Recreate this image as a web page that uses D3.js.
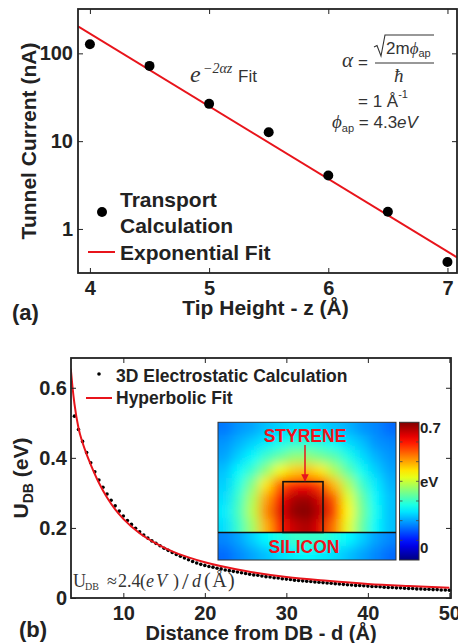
<!DOCTYPE html>
<html>
<head>
<meta charset="utf-8">
<script src="https://cdn.jsdelivr.net/npm/d3@7"></script>
<style>
  body { margin: 0; background: #fff; }
  svg { display: block; font-family: "Liberation Sans", Arial, Helvetica, sans-serif; }
</style>
</head>
<body>
<div id="chart"></div>
<script>
// ---- panel (a): tunnel current vs tip height ----
const tipHeight = [4, 4.5, 5, 5.5, 6, 6.5, 7];
const tunnelCurrent = [127, 72, 26.6, 12.6, 4.06, 1.57, 0.42];
const expFitZ = [3.9, 7.08];
const expFitI = [203, 0.475];
const aTicksX = [4, 5, 6, 7];
const aTicksY = [1, 10, 100];

// ---- panel (b): electrostatic potential vs distance ----
const distance = [4,4.5,5,5.5,6,6.5,7,7.5,8,8.5,9,9.5,10,10.5,11,11.5,12,12.5,13,13.5,14,14.5,15,15.5,
  16,16.5,17,17.5,18,18.5,19,19.5,20,20.5,21,21.5,22,22.5,23,23.5,24,24.5,25,25.5,26,26.5,27,27.5,
  28,28.5,29,29.5,30,30.5,31,31.5,32,32.5,33,33.5,34,34.5,35,35.5,36,36.5,37,37.5,38,38.5,39,39.5,
  40,40.5,41,41.5,42,42.5,43,43.5,44,44.5,45,45.5,46,46.5,47,47.5,48,48.5,49,49.5,50];
const potential = [0.519,0.481,0.447,0.415,0.386,0.360,0.337,0.316,0.297,0.279,0.263,0.248,0.234,0.221,
  0.210,0.199,0.189,0.180,0.171,0.163,0.156,0.149,0.142,0.136,0.130,0.124,0.119,0.114,0.109,0.104,0.100,0.096,
  0.093,0.090,0.088,0.085,0.083,0.080,0.078,0.076,0.074,0.072,0.070,
  0.068,0.066,0.065,0.063,0.061,0.060,0.058,0.057,0.055,0.054,
  0.053,0.051,0.050,0.049,0.048,0.047,0.046,0.045,0.044,0.043,
  0.042,0.041,0.040,0.039,0.038,0.037,0.036,0.036,0.035,0.034,
  0.033,0.033,0.032,0.031,0.030,0.030,0.029,0.029,0.028,0.027,
  0.027,0.026,0.026,0.025,0.025,0.024,0.024,0.023,0.023,0.022];
const hypFitD = [3.55,3.75,4,4.5,5,5.5,6,7,8,9,10,12,14,16,18,20,25,30,35,40,45,50];
const hypFitU = [0.655,0.605,0.555,0.485,0.443,0.410,0.381,0.329,0.287,0.253,0.226,0.185,0.156,
  0.133,0.116,0.102,0.077,0.060,0.049,0.040,0.034,0.029];
const bTicksX = [10, 20, 30, 40, 50];
const bTicksY = [0, 0.2, 0.4, 0.6];

// inset potential map (eV), rows top -> bottom; rows 8-9 are the silicon
const potentialMap = [
  [0.17,0.19,0.20,0.22,0.23,0.24,0.24,0.23,0.22,0.21,0.19,0.18,0.16],
  [0.19,0.21,0.23,0.25,0.27,0.29,0.29,0.28,0.26,0.24,0.22,0.19,0.18],
  [0.20,0.23,0.26,0.30,0.33,0.36,0.36,0.34,0.32,0.28,0.24,0.21,0.19],
  [0.22,0.26,0.30,0.36,0.43,0.47,0.48,0.45,0.38,0.32,0.27,0.23,0.20],
  [0.23,0.28,0.35,0.45,0.55,0.60,0.61,0.57,0.48,0.38,0.30,0.25,0.21],
  [0.24,0.30,0.38,0.50,0.61,0.67,0.68,0.64,0.55,0.42,0.33,0.26,0.22],
  [0.25,0.31,0.39,0.52,0.63,0.69,0.70,0.66,0.57,0.44,0.34,0.27,0.22],
  [0.24,0.30,0.37,0.49,0.60,0.65,0.67,0.63,0.53,0.42,0.33,0.26,0.22],
  [0.18,0.20,0.23,0.26,0.28,0.30,0.30,0.30,0.28,0.26,0.23,0.20,0.18],
  [0.16,0.18,0.20,0.22,0.24,0.25,0.26,0.25,0.24,0.22,0.20,0.18,0.16]
];
const colorbarMax = 0.7;

const W = 458, H = 643;
const ink = '#222';
const svg = d3.select('#chart').append('svg').attr('width', W).attr('height', H);
const defs = svg.append('defs');

function frame(box, xs, ys, xt, yt, fmtX, fmtY, padX, padY) {
  const g = svg.append('g');
  g.append('g').attr('transform', `translate(0,${box.b})`)
    .call(d3.axisBottom(xs).tickValues(xt).tickSizeInner(-5).tickSizeOuter(0).tickPadding(padX).tickFormat(fmtX));
  g.append('g').attr('transform', `translate(0,${box.t})`)
    .call(d3.axisTop(xs).tickValues(xt).tickSizeInner(-5).tickSizeOuter(0).tickFormat(''));
  g.append('g').attr('transform', `translate(${box.l},0)`)
    .call(d3.axisLeft(ys).tickValues(yt).tickSizeInner(-5).tickSizeOuter(0).tickPadding(padY).tickFormat(fmtY));
  g.append('g').attr('transform', `translate(${box.r},0)`)
    .call(d3.axisRight(ys).tickValues(yt).tickSizeInner(-5).tickSizeOuter(0).tickFormat(''));
  g.selectAll('.domain').remove();
  g.selectAll('.tick line').attr('stroke', ink).attr('stroke-width', 1);
  g.selectAll('.tick text').attr('font-size', 20).attr('font-weight', 'bold').attr('fill', ink)
    .attr('font-family', '"Liberation Sans", Arial, sans-serif');
  svg.append('rect').attr('x', box.l).attr('y', box.t).attr('width', box.r - box.l).attr('height', box.b - box.t)
    .attr('fill', 'none').attr('stroke', ink).attr('stroke-width', 1.8);
}

// ================= panel (a) =================
const A = {l: 78, r: 457, t: 9, b: 273};
const xa = d3.scaleLinear().domain([3.9, 7.08]).range([A.l, A.r]);
const ya = d3.scaleLog().domain([0.315, 320]).range([A.b, A.t]);

defs.append('clipPath').attr('id', 'clipA').append('rect')
  .attr('x', A.l).attr('y', A.t).attr('width', A.r - A.l).attr('height', A.b - A.t);

svg.append('path')
  .datum(expFitZ.map((z, i) => [z, expFitI[i]]))
  .attr('clip-path', 'url(#clipA)')
  .attr('d', d3.line().x(d => xa(d[0])).y(d => ya(d[1])))
  .attr('fill', 'none').attr('stroke', '#e8141b').attr('stroke-width', 2);

svg.append('g').selectAll('circle')
  .data(tipHeight.map((z, i) => [z, tunnelCurrent[i]]))
  .join('circle')
  .attr('cx', d => xa(d[0])).attr('cy', d => ya(d[1])).attr('r', 5).attr('fill', '#000');

frame(A, xa, ya, aTicksX, aTicksY, d3.format('d'), d3.format('d'), 8, 5);

// legend (a)
svg.append('circle').attr('cx', 102).attr('cy', 212).attr('r', 5).attr('fill', '#000');
const legA = svg.append('g').attr('font-size', 21).attr('font-weight', 'bold').attr('fill', ink);
legA.append('text').attr('x', 120).attr('y', 207).text('Transport');
legA.append('text').attr('x', 120).attr('y', 233).text('Calculation');
legA.append('text').attr('x', 120).attr('y', 260).text('Exponential Fit');
svg.append('line').attr('x1', 88).attr('x2', 115).attr('y1', 252).attr('y2', 252)
  .attr('stroke', '#e8141b').attr('stroke-width', 2);

// annotation e^{-2αz} Fit
const serif = '"Liberation Serif", "Times New Roman", serif';
svg.append('text').attr('x', 190).attr('y', 82).attr('font-family', serif).attr('font-style', 'italic')
  .attr('font-size', 24).attr('fill', '#333').text('e');
svg.append('text').attr('x', 203).attr('y', 73).attr('font-family', serif).attr('font-style', 'italic')
  .attr('font-size', 14).attr('fill', '#333').text('−2αz');
svg.append('text').attr('x', 238).attr('y', 82).attr('font-size', 17).attr('fill', '#333').text('Fit');

// formula α = sqrt(2mφap)/ħ
const fm = svg.append('g').attr('fill', '#333').attr('font-size', 17);
fm.append('text').attr('x', 342).attr('y', 67).attr('font-family', serif).attr('font-style', 'italic')
  .attr('font-size', 21).text('α');
fm.append('text').attr('x', 358).attr('y', 68).text('=');
fm.append('path').attr('d', 'M374,47 L377,45.5 L381,56 L385,35 L434,35')
  .attr('fill', 'none').attr('stroke', '#333').attr('stroke-width', 1.1);
const num = fm.append('text').attr('x', 386).attr('y', 54);
num.append('tspan').text('2m');
num.append('tspan').attr('font-family', serif).attr('font-style', 'italic').text('ϕ');
num.append('tspan').attr('font-size', 11).attr('dy', 3).text('ap');
fm.append('line').attr('x1', 375).attr('x2', 434).attr('y1', 63).attr('y2', 63)
  .attr('stroke', '#333').attr('stroke-width', 1.1);
fm.append('text').attr('x', 394).attr('y', 82).attr('font-family', serif).attr('font-style', 'italic')
  .attr('font-size', 19).text('ħ');
const l2 = fm.append('text').attr('x', 358).attr('y', 107);
l2.append('tspan').text('= 1 Å');
l2.append('tspan').attr('font-size', 11).attr('dy', -9).text('-1');
const l3 = fm.append('text').attr('x', 332).attr('y', 128);
l3.append('tspan').attr('font-family', serif).attr('font-style', 'italic').attr('font-size', 19).text('ϕ');
l3.append('tspan').attr('font-size', 11).attr('dy', 4).text('ap');
l3.append('tspan').attr('dy', -4).text(' = 4.3');
l3.append('tspan').attr('font-style', 'italic').text('eV');

// axis titles (a)
svg.append('text').attr('transform', `translate(36,${(A.t + A.b) / 2}) rotate(-90)`)
  .attr('text-anchor', 'middle').attr('font-size', 21).attr('font-weight', 'bold').attr('fill', ink)
  .text('Tunnel Current (nA)');
svg.append('text').attr('x', (A.l + A.r) / 2 - 2).attr('y', 315).attr('text-anchor', 'middle')
  .attr('font-size', 21).attr('font-weight', 'bold').attr('fill', ink).text('Tip Height - z (Å)');
svg.append('text').attr('x', 12).attr('y', 320).attr('font-size', 22).attr('font-weight', 'bold')
  .attr('fill', ink).text('(a)');

// ================= panel (b) =================
const B = {l: 71, r: 451, t: 358, b: 598};
const xb = d3.scaleLinear().domain([3.58, 50.2]).range([B.l, B.r]);
const yb = d3.scaleLinear().domain([0, 0.685]).range([B.b, B.t]);

defs.append('clipPath').attr('id', 'clipB').append('rect')
  .attr('x', B.l).attr('y', B.t).attr('width', B.r - B.l).attr('height', B.b - B.t);

svg.append('g').selectAll('circle')
  .data(distance.map((d, i) => [d, potential[i]]))
  .join('circle')
  .attr('cx', d => xb(d[0])).attr('cy', d => yb(d[1])).attr('r', 1.8).attr('fill', '#000');

svg.append('path')
  .datum(hypFitD.map((d, i) => [d, hypFitU[i]]))
  .attr('clip-path', 'url(#clipB)')
  .attr('d', d3.line().curve(d3.curveMonotoneX).x(d => xb(d[0])).y(d => yb(d[1])))
  .attr('fill', 'none').attr('stroke', '#e8141b').attr('stroke-width', 2);

// ---- inset heat map ----
function jet(t) {
  const c = v => Math.max(0, Math.min(1, v));
  return d3.rgb(255 * c(1.5 - Math.abs(4 * t - 3)), 255 * c(1.5 - Math.abs(4 * t - 2)),
    255 * c(1.5 - Math.abs(4 * t - 1))).toString();
}
const color = d3.scaleSequential(jet).domain([0, colorbarMax]);
const inset = {x0: 218, x1: 396, y0: 422.3, y1: 560};
const colBand = d3.scaleBand().domain(d3.range(potentialMap[0].length)).range([inset.x0, inset.x1]);
const rowBand = d3.scaleBand().domain(d3.range(potentialMap.length)).range([inset.y0, inset.y1]);
const lineY = rowBand(8);

defs.append('filter').attr('id', 'smooth').attr('filterUnits', 'userSpaceOnUse')
  .attr('x', 180).attr('y', 390).attr('width', 260).attr('height', 200)
  .append('feGaussianBlur').attr('stdDeviation', 5.5);

const regions = [{rows: [0, 7], y0: inset.y0, y1: lineY, id: 'clipTop'},
                 {rows: [8, 9], y0: lineY, y1: inset.y1, id: 'clipSi'}];
const pad = 20, nc = potentialMap[0].length;
regions.forEach(reg => {
  defs.append('clipPath').attr('id', reg.id).append('rect')
    .attr('x', inset.x0).attr('y', reg.y0).attr('width', inset.x1 - inset.x0).attr('height', reg.y1 - reg.y0);
  const cells = [];
  for (let i = reg.rows[0]; i <= reg.rows[1]; i++) {
    potentialMap[i].forEach((v, j) => cells.push({i, j, v}));
  }
  svg.append('g').attr('clip-path', `url(#${reg.id})`)
    .append('g').attr('filter', 'url(#smooth)')
    .selectAll('rect').data(cells).join('rect')
    .attr('x', d => colBand(d.j) - (d.j === 0 ? pad : 0))
    .attr('width', d => colBand.bandwidth() + (d.j === 0 ? pad : 0) + (d.j === nc - 1 ? pad : 0) + 0.5)
    .attr('y', d => rowBand(d.i) - (d.i === reg.rows[0] ? pad : 0))
    .attr('height', d => rowBand.bandwidth() + (d.i === reg.rows[0] ? pad : 0) + (d.i === reg.rows[1] ? pad : 0) + 0.5)
    .attr('fill', d => color(d.v));
});
svg.append('rect').attr('x', inset.x0).attr('y', inset.y0).attr('width', inset.x1 - inset.x0)
  .attr('height', inset.y1 - inset.y0).attr('fill', 'none').attr('stroke', '#333').attr('stroke-width', 1);
svg.append('line').attr('x1', inset.x0).attr('x2', inset.x1).attr('y1', lineY).attr('y2', lineY)
  .attr('stroke', '#111').attr('stroke-width', 1.6);
svg.append('rect').attr('x', 283).attr('y', 481.7).attr('width', 40).attr('height', lineY - 481.7)
  .attr('fill', 'none').attr('stroke', '#111').attr('stroke-width', 1.6);

defs.append('marker').attr('id', 'arrow').attr('viewBox', '0 0 10 10').attr('refX', 9).attr('refY', 5)
  .attr('markerWidth', 5).attr('markerHeight', 5).attr('orient', 'auto')
  .append('path').attr('d', 'M0,0 L10,5 L0,10 z').attr('fill', '#e8141b');
svg.append('line').attr('x1', 305).attr('x2', 305).attr('y1', 445).attr('y2', 481)
  .attr('stroke', '#e8141b').attr('stroke-width', 1.5).attr('marker-end', 'url(#arrow)');
svg.append('text').attr('x', 305).attr('y', 442).attr('text-anchor', 'middle').attr('font-size', 17.5)
  .attr('font-weight', 'bold').attr('fill', '#f0121b').text('STYRENE');
svg.append('text').attr('x', 304).attr('y', 553).attr('text-anchor', 'middle').attr('font-size', 17.5)
  .attr('font-weight', 'bold').attr('fill', '#f0121b').text('SILICON');

// colour bar
const cb = {x0: 399.5, x1: 419, y0: inset.y0, y1: inset.y1};
const cbScale = d3.scaleLinear().domain([0, colorbarMax]).range([cb.y1, cb.y0]);
const grad = defs.append('linearGradient').attr('id', 'jetGrad')
  .attr('x1', 0).attr('y1', 1).attr('x2', 0).attr('y2', 0);
d3.range(0, 1.0001, 0.05).forEach(t => grad.append('stop').attr('offset', t).attr('stop-color', jet(t)));
svg.append('rect').attr('x', cb.x0).attr('y', cb.y0).attr('width', cb.x1 - cb.x0).attr('height', cb.y1 - cb.y0)
  .attr('fill', 'url(#jetGrad)').attr('stroke', '#333').attr('stroke-width', 1);
const cbTicks = [0.1, 0.2, 0.3, 0.4, 0.5, 0.6];
svg.append('g').selectAll('path').data(cbTicks).join('path')
  .attr('d', d => `M${cb.x0},${cbScale(d)}h3M${cb.x1},${cbScale(d)}h-3`)
  .attr('stroke', '#444').attr('stroke-width', 0.8);
const cbl = svg.append('g').attr('font-size', 15).attr('font-weight', 'bold').attr('fill', ink);
cbl.append('text').attr('x', 420).attr('y', 433).text('0.7');
cbl.append('text').attr('x', 420).attr('y', 487).text('eV');
cbl.append('text').attr('x', 420).attr('y', 553).text('0');

frame(B, xb, yb, bTicksX, bTicksY, d3.format('d'), d => d === 0 ? '0' : d3.format('.1f')(d), 8, 4);

// legend (b)
svg.append('circle').attr('cx', 99).attr('cy', 374).attr('r', 1.8).attr('fill', '#000');
svg.append('line').attr('x1', 86).attr('x2', 112).attr('y1', 398).attr('y2', 398)
  .attr('stroke', '#e8141b').attr('stroke-width', 2);
const legB = svg.append('g').attr('font-size', 17.5).attr('font-weight', 'bold').attr('fill', ink);
legB.append('text').attr('x', 116).attr('y', 382).text('3D Electrostatic Calculation');
legB.append('text').attr('x', 116).attr('y', 403.5).text('Hyperbolic Fit');

// fit formula U_DB ≈ 2.4(eV)/d(Å), pieces placed as in the figure
const fg = svg.append('g').attr('font-family', serif).attr('font-size', 18).attr('fill', '#333');
const fitPieces = [
  {x: 73, t: 'U'}, {x: 85, t: 'DB', size: 10, dy: 3}, {x: 107, t: '≈'}, {x: 118, t: '2.4'},
  {x: 140, t: '('}, {x: 146, t: 'eV', italic: true}, {x: 173, t: ')'},
  {x: 182, t: '/', size: 24, dy: 2}, {x: 192, t: 'd', italic: true}, {x: 204, t: '(Å)', size: 20}
];
fg.selectAll('text').data(fitPieces).join('text')
  .attr('x', d => d.x).attr('y', d => 587 + (d.dy || 0))
  .attr('font-size', d => d.size || null)
  .attr('font-style', d => d.italic ? 'italic' : null)
  .attr('letter-spacing', d => d.t === 'eV' ? 2 : (d.t === '(Å)' ? 1.5 : null))
  .text(d => d.t);

// axis titles (b)
const yl = svg.append('text').attr('transform', `translate(28,${(B.t + B.b) / 2}) rotate(-90)`)
  .attr('text-anchor', 'middle').attr('font-size', 21).attr('font-weight', 'bold').attr('fill', ink);
yl.append('tspan').text('U');
yl.append('tspan').attr('font-size', 14).attr('dy', 5).text('DB');
yl.append('tspan').attr('dy', -5).text(' (eV)');
svg.append('text').attr('x', (B.l + B.r) / 2).attr('y', 640).attr('text-anchor', 'middle')
  .attr('font-size', 20).attr('font-weight', 'bold').attr('fill', ink).text('Distance from DB - d (Å)');
svg.append('text').attr('x', 19).attr('y', 637).attr('font-size', 22).attr('font-weight', 'bold')
  .attr('fill', ink).text('(b)');
</script>
</body>
</html>
